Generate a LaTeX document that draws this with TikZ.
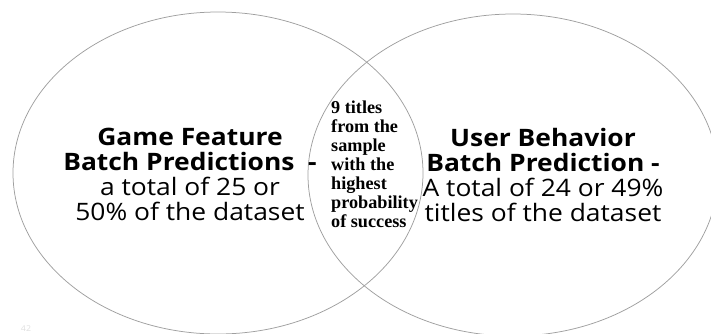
\documentclass[tikz,border=0pt]{standalone}
\usepackage{fontspec}
\usetikzlibrary{shapes.geometric}
\newfontfamily\labelfont[FakeStretch=1.1]{Open Sans}
\newfontfamily\midfont{Liberation Serif}
\begin{document}
\begin{tikzpicture}[x=1pt,y=-1pt,
  venn/.style={ellipse, draw=gray!75, line width=0.75pt,
    minimum width=410pt, minimum height=322pt, inner sep=0pt},
  sidetext/.style={align=center, inner sep=0pt, anchor=north,
    font=\labelfont\fontsize{24}{25}\selectfont},
  midtext/.style={align=left, inner sep=0pt, anchor=north west,
    font=\midfont\bfseries\fontsize{18.2}{19}\selectfont}]
  \useasboundingbox (0,0) rectangle (711,333);
  % the two overlapping sets
  \node[venn] (setA) at (218,173) {};
  \node[venn] (setB) at (513,175) {};
  % set labels
  \node[sidetext] (labA) at (190,128)
    {\textbf{Game Feature}\\ \textbf{Batch Predictions\ \ -}\\ a total of 25 or\\ 50\% of the dataset};
  \node[sidetext] (labB) at (543,128)
    {\textbf{User Behavior}\\ \textbf{Batch Prediction -}\\ A total of 24 or 49\%\\ titles of the dataset};
  % overlap label
  \node[midtext] (labAB) at (331,100.5)
    {9 titles\\ from the\\ sample\\ with the\\ highest\\ probability\\ of success};
  % faint page number at the lower left
  \node[font=\labelfont\fontsize{8}{10}\selectfont, text=gray!25, anchor=base, inner sep=0pt]
    (pagenum) at (26,331) {42};
\end{tikzpicture}
\end{document}
